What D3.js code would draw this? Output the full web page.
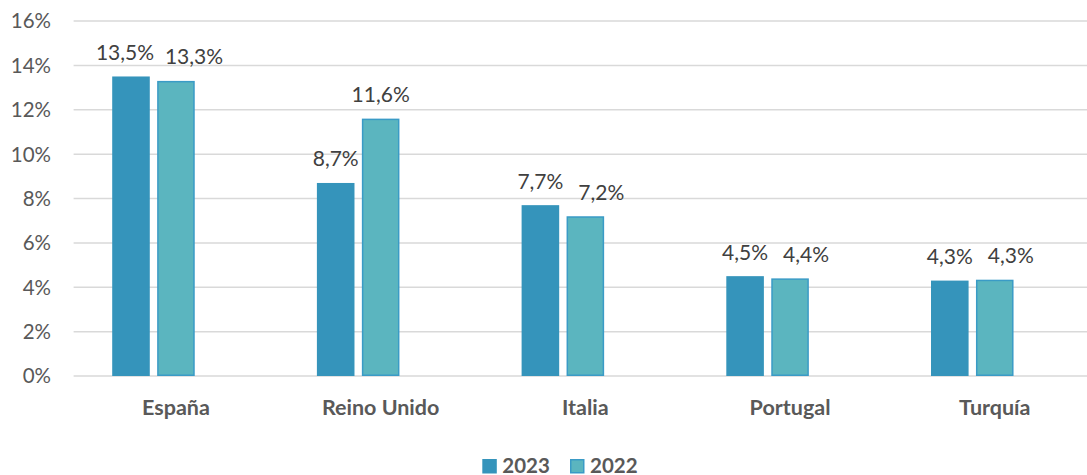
<!DOCTYPE html>
<html><head><meta charset="utf-8">
<script src="https://cdn.jsdelivr.net/npm/d3@7"></script>
<style>body{margin:0;background:#fff}svg{display:block}</style>
</head><body>
<svg id="c" width="1087" height="475"></svg>
<script>
const categories = ["España", "Reino Unido", "Italia", "Portugal", "Turquía"];
const seriesNames = ["2023", "2022"];
const values2023 = [13.5, 8.7, 7.7, 4.5, 4.3];
const values2022 = [13.3, 11.6, 7.2, 4.4, 4.34];
const yTickValues = [0, 2, 4, 6, 8, 10, 12, 14, 16];

const colors = {"2023": "#3594BB", "2022": "#5BB5BF"};
const strokes = {"2023": "#3594BB", "2022": "#3A9BC6"};
// manual label nudges (as in the original)
const labelNudge = {"2023": [-6, 0, 0, 0, 0], "2022": [18, 0, 16, 16, 16]};

const svg = d3.select("#c");
const W = 1087;
const bandW = 204.7, x0 = 73.6;
const x = d3.scaleBand().domain(categories).range([x0, x0 + bandW * categories.length]);
const slot = d3.scaleBand().domain(["2023", "2022", "_"]).range([38.6, bandW - 38.6]).paddingInner(0.164);
const y = d3.scaleLinear().domain([0, 16]).range([376, 21]);

const font = "Lato, 'Open Sans', sans-serif";

// gridlines
svg.append("g").selectAll("line").data(yTickValues).join("line")
  .attr("x1", x0).attr("x2", W)
  .attr("y1", d => y(d)).attr("y2", d => y(d))
  .attr("stroke", "#D9D9D9").attr("stroke-width", 1.5);

// y tick labels
svg.append("g").selectAll("text").data(yTickValues).join("text")
  .attr("x", 51).attr("y", d => y(d))
  .attr("dy", "0.36em")
  .attr("text-anchor", "end")
  .attr("font-family", font).attr("font-size", 20.5)
  .attr("fill", "#595959")
  .text(d => d + "%");

const seriesData = [
  {name: "2023", values: values2023},
  {name: "2022", values: values2022}
];

const fmt = v => d3.format(".1f")(v).replace(".", ",") + "%";

seriesData.forEach(s => {
  const g = svg.append("g");
  const sw = s.name === "2022" ? 1.5 : 0;
  g.selectAll("rect").data(s.values).join("rect")
    .attr("x", (d, i) => x(categories[i]) + slot(s.name) + sw / 2)
    .attr("width", slot.bandwidth() - sw)
    .attr("y", d => y(d) + sw / 2)
    .attr("height", d => y(0) - y(d) - sw)
    .attr("fill", colors[s.name])
    .attr("stroke", sw ? strokes[s.name] : "none")
    .attr("stroke-width", sw);
  g.selectAll("text").data(s.values).join("text")
    .attr("x", (d, i) => x(categories[i]) + slot(s.name) + slot.bandwidth() / 2 + labelNudge[s.name][i])
    .attr("y", d => y(d) - 16.5)
    .attr("text-anchor", "middle")
    .attr("font-family", font).attr("font-size", 21)
    .attr("fill", "#404040")
    .text(d => fmt(d));
});

// category labels
svg.append("g").selectAll("text").data(categories).join("text")
  .attr("x", d => x(d) + bandW / 2)
  .attr("y", 414.5)
  .attr("text-anchor", "middle")
  .attr("font-family", font).attr("font-size", 21.5).attr("font-weight", "bold")
  .attr("fill", "#595959")
  .text(d => d);

// legend
const legendX = [482.3, 570];
const lg = svg.append("g");
seriesNames.forEach((n, i) => {
  const sw = n === "2022" ? 1.5 : 0;
  lg.append("rect")
    .attr("x", legendX[i] + sw / 2).attr("y", 459 + sw / 2)
    .attr("width", 14.5 - sw).attr("height", 14.5 - sw)
    .attr("fill", colors[n])
    .attr("stroke", sw ? strokes[n] : "none").attr("stroke-width", sw);
  lg.append("text")
    .attr("x", legendX[i] + 20).attr("y", 472.5)
    .attr("font-family", font).attr("font-size", 20.5).attr("font-weight", "bold")
    .attr("fill", "#595959")
    .text(n);
});
</script>
</body></html>
